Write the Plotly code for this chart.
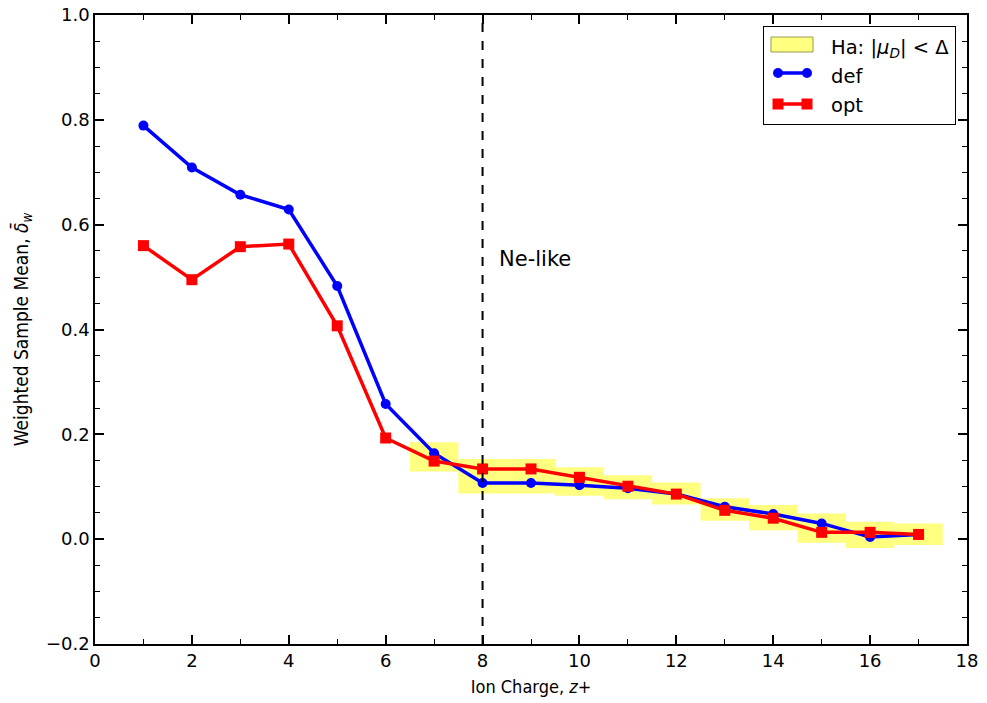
import plotly.graph_objects as go

# ---- data ----
charge = list(range(1, 18))
def_vals = [0.789, 0.709, 0.657, 0.629, 0.483, 0.258, 0.164, 0.107, 0.107,
            0.103, 0.097, 0.086, 0.062, 0.048, 0.030, 0.004, 0.009]
opt_vals = [0.560, 0.495, 0.558, 0.563, 0.407, 0.193, 0.149, 0.134, 0.134,
            0.118, 0.101, 0.086, 0.055, 0.040, 0.013, 0.013, 0.009]
box_charge = list(range(7, 18))
box_low = [0.129, 0.087, 0.087, 0.083, 0.076, 0.066, 0.035, 0.017, -0.007, -0.017, -0.011]
box_high = [0.185, 0.153, 0.153, 0.137, 0.122, 0.108, 0.078, 0.065, 0.049, 0.033, 0.030]
ne_like_charge = 8
legend_names = ["Ha: |<i>μ</i><sub><i>D</i></sub>| < Δ", "def", "opt"]

BLUE, RED = "#0000ff", "#ff0000"
BOX_FILL = "rgba(255,255,0,0.5)"

fig = go.Figure()
for c, lo, hi in zip(box_charge, box_low, box_high):
    fig.add_shape(type="rect", x0=c - 0.5, x1=c + 0.5, y0=lo, y1=hi, xref="x", yref="y",
                  fillcolor=BOX_FILL, line=dict(width=0), layer="below")

fig.add_trace(go.Scatter(
    x=charge, y=def_vals, mode="lines+markers", name="def", showlegend=False,
    line=dict(color=BLUE, width=3.5), marker=dict(symbol="circle", size=10, color=BLUE)))
fig.add_trace(go.Scatter(
    x=charge, y=opt_vals, mode="lines+markers", name="opt", showlegend=False,
    line=dict(color=RED, width=3.5), marker=dict(symbol="square", size=11, color=RED)))

# legend entries (text from the legend, symbols drawn as shapes in matplotlib style)
for i, nm in enumerate(legend_names):
    fig.add_trace(go.Scatter(x=[None], y=[None], mode="lines", name=nm,
                             legendgroup=f"g{i}", hoverinfo="skip",
                             line=dict(color="rgba(0,0,0,0)", width=1)))

# legend symbols (paper coordinates)
lx0, lx1 = 0.78326, 0.81651
fig.add_shape(type="rect", xref="paper", yref="paper", x0=0.7752, x1=0.8234, y0=0.9412, y1=0.965,
              fillcolor="#ffff80", line=dict(color="#9a9a50", width=1), layer="above")
for yy, col, sym in [(0.9078, BLUE, "circle"), (0.8585, RED, "rect")]:
    fig.add_shape(type="line", xref="paper", yref="paper", x0=lx0, x1=lx1, y0=yy, y1=yy,
                  line=dict(color=col, width=3.5), layer="above")
    for xx in (lx0, lx1):
        r = 5 if sym == "circle" else 5.5
        fig.add_shape(type=sym, xref="paper", yref="paper", xsizemode="pixel", ysizemode="pixel",
                      xanchor=xx, yanchor=yy, x0=-r, x1=r, y0=-r, y1=r,
                      fillcolor=col, line=dict(width=0), layer="above")

fig.add_shape(type="line", x0=ne_like_charge, x1=ne_like_charge, y0=0, y1=1,
              xref="x", yref="paper", line=dict(color="black", width=2, dash="dash"))
fig.add_annotation(x=ne_like_charge + 0.3, y=0.535, text="Ne-like", showarrow=False,
                   xanchor="left", yanchor="middle",
                   font=dict(size=21, color="black", family="DejaVu Sans"))

axis_common = dict(
    showgrid=False, zeroline=False, showline=True, linecolor="black", linewidth=1.5,
    mirror="ticks", ticks="inside", ticklen=9, tickwidth=1.5, tickcolor="black",
    ticklabeloverflow="allow", automargin=False,
    tickfont=dict(size=18, color="black", family="DejaVu Sans"),
)
fig.update_xaxes(range=[0, 18], dtick=2, tick0=0,
                 minor=dict(dtick=1, ticks="inside", ticklen=5, tickwidth=1, tickcolor="black"),
                 title=dict(text="Ion Charge, <i>z</i>+", standoff=10,
                            font=dict(size=18, color="black", family="DejaVu Sans Condensed")),
                 **axis_common)
fig.update_yaxes(range=[-0.2, 1.0], dtick=0.2, tick0=0, tickformat=".1f",
                 minor=dict(dtick=0.05, ticks="inside", ticklen=5, tickwidth=1, tickcolor="black"),
                 title=dict(text="Weighted Sample Mean, <i>δ̄</i><sub><i>w</i></sub>", standoff=12,
                            font=dict(size=19, color="black", family="DejaVu Sans Condensed")),
                 **axis_common)

fig.update_layout(
    width=979, height=695,
    margin=dict(l=87, r=20, t=7, b=59, autoexpand=False),
    plot_bgcolor="white", paper_bgcolor="white",
    font=dict(family="DejaVu Sans", color="black"),
    showlegend=True,
    legend=dict(x=0.76606, y=0.982, xanchor="left", yanchor="top",
                bgcolor="rgba(0,0,0,0)", bordercolor="black", borderwidth=1,
                font=dict(size=19.5, color="black", family="DejaVu Sans"),
                itemwidth=57, traceorder="grouped", tracegroupgap=0.5),
)

fig.write_html("out.html")
